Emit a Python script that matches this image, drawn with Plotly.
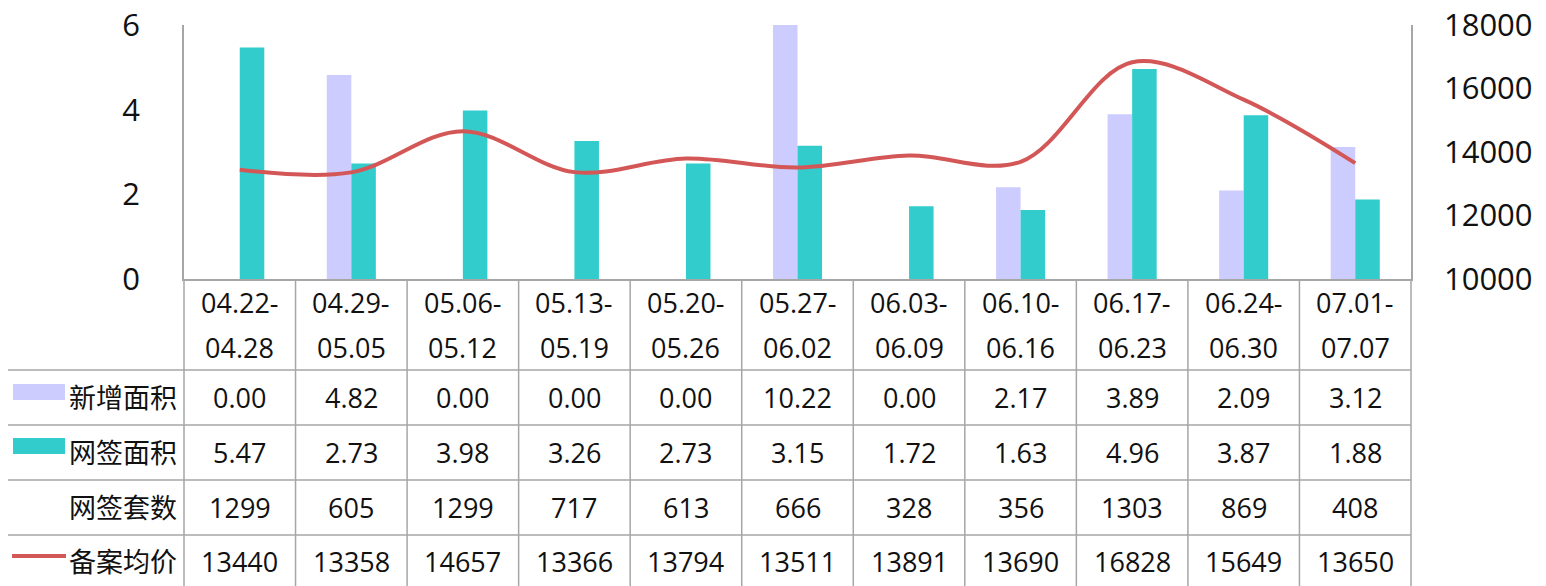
import plotly.graph_objects as go

weeks_start = ["04.22-", "04.29-", "05.06-", "05.13-", "05.20-", "05.27-",
               "06.03-", "06.10-", "06.17-", "06.24-", "07.01-"]
weeks_end = ["04.28", "05.05", "05.12", "05.19", "05.26", "06.02",
             "06.09", "06.16", "06.23", "06.30", "07.07"]
categories = [a + b for a, b in zip(weeks_start, weeks_end)]
new_area = [0.00, 4.82, 0.00, 0.00, 0.00, 10.22, 0.00, 2.17, 3.89, 2.09, 3.12]
signed_area = [5.47, 2.73, 3.98, 3.26, 2.73, 3.15, 1.72, 1.63, 4.96, 3.87, 1.88]
signed_units = [1299, 605, 1299, 717, 613, 666, 328, 356, 1303, 869, 408]
avg_price = [13440, 13358, 14657, 13366, 13794, 13511, 13891, 13690, 16828, 15649, 13650]
row_names = ["新增面积", "网签面积", "网签套数", "备案均价"]

# page body has an 8px default margin; lay the figure out in page pixels minus it
OFF = 8
W, H = 1546 - OFF, 586 - OFF
L, R, T, B = 184 - OFF, 1411 - OFF, 25 - OFF, 279 - OFF
PW, PH = R - L, B - T
C_NEW = "#CCCCFF"
C_SIGN = "#33CCCC"
C_LINE = "#D45757"
GRID = "#A6A6A6"
FONT = "Open Sans, Noto Sans CJK SC, sans-serif"


def px_x(px):
    return (px - OFF - L) / PW


def px_y(py):
    return (B - (py - OFF)) / PH


xs = list(range(len(categories)))

fig = go.Figure()
fig.add_trace(go.Bar(x=xs, y=new_area, name=row_names[0], marker_color=C_NEW,
                     marker_line_width=0))
fig.add_trace(go.Bar(x=xs, y=signed_area, name=row_names[1], marker_color=C_SIGN,
                     marker_line_width=0))
fig.add_trace(go.Scatter(x=xs, y=avg_price, name=row_names[3], yaxis="y2",
                         mode="lines", line=dict(color=C_LINE, width=4, shape="spline",
                                                 smoothing=1.0)))

shapes = []
ann = []
row_tops = [370, 425, 480, 535]
for y in row_tops:
    shapes.append(dict(type="line", xref="paper", yref="paper", x0=px_x(6), x1=1,
                       y0=px_y(y), y1=px_y(y), line=dict(color=GRID, width=1.5)))
for i in range(len(categories) + 1):
    xp = i / len(categories)
    shapes.append(dict(type="line", xref="paper", yref="paper", x0=xp, x1=xp,
                       y0=0, y1=px_y(600), line=dict(color=GRID, width=1.5)))
shapes.append(dict(type="line", xref="paper", yref="paper", x0=px_x(6), x1=px_x(6),
                   y0=px_y(370), y1=px_y(600), line=dict(color=GRID, width=1.5)))

TF = dict(family=FONT, size=27, color="#111111")
for i in xs:
    ann.append(dict(x=i, y=px_y(302), xref="x", yref="paper", text=weeks_start[i],
                    showarrow=False, font=TF, xanchor="center", yanchor="middle"))
    ann.append(dict(x=i, y=px_y(347), xref="x", yref="paper", text=weeks_end[i],
                    showarrow=False, font=TF, xanchor="center", yanchor="middle"))

rows = [[f"{v:.2f}" for v in new_area], [f"{v:.2f}" for v in signed_area],
        [str(v) for v in signed_units], [str(v) for v in avg_price]]
row_centers = [397, 452, 507, 561]
for r, (vals, yc) in enumerate(zip(rows, row_centers)):
    ann.append(dict(x=px_x(179), y=px_y(yc), xref="paper", yref="paper",
                    text=row_names[r], showarrow=False, font=TF,
                    xanchor="right", yanchor="middle"))
    for i in xs:
        ann.append(dict(x=i, y=px_y(yc), xref="x", yref="paper", text=vals[i],
                        showarrow=False, font=TF, xanchor="center", yanchor="middle"))

shapes.append(dict(type="rect", xref="paper", yref="paper", x0=px_x(13), x1=px_x(65),
                   y0=px_y(384), y1=px_y(400), fillcolor=C_NEW, line_width=0))
shapes.append(dict(type="rect", xref="paper", yref="paper", x0=px_x(13), x1=px_x(65),
                   y0=px_y(438), y1=px_y(454), fillcolor=C_SIGN, line_width=0))
shapes.append(dict(type="line", xref="paper", yref="paper", x0=px_x(12), x1=px_x(66),
                   y0=px_y(556), y1=px_y(556), line=dict(color=C_LINE, width=4)))

fig.update_layout(
    template="none",
    width=W, height=H,
    margin=dict(l=L, r=W - R, t=T, b=H - B, pad=0, autoexpand=False),
    paper_bgcolor="white", plot_bgcolor="white",
    barmode="group", bargap=0.56, bargroupgap=0,
    showlegend=False,
    font=dict(family=FONT, color="#111111"),
    xaxis=dict(range=[-0.5, 10.5], showticklabels=False, showgrid=False, zeroline=False,
               showline=True, linecolor=GRID, linewidth=1.5, ticks="", automargin=False),
    yaxis=dict(range=[0, 6], dtick=2, showgrid=False, zeroline=False, showline=True,
               linecolor=GRID, linewidth=1.5, ticks="", automargin=False,
               ticklabeloverflow="allow",
               tickfont=dict(size=31, family=FONT, color="#111111"),
               ticklabelstandoff=36),
    yaxis2=dict(range=[10000, 18000], dtick=2000, overlaying="y", side="right",
                showgrid=False, zeroline=False, showline=True, linecolor=GRID,
                linewidth=1.5, ticks="", automargin=False, tickformat="d",
                ticklabeloverflow="allow",
                tickfont=dict(size=31, family=FONT, color="#111111"),
                ticklabelstandoff=25),
    shapes=shapes, annotations=ann,
)

fig.write_html("out.html")
